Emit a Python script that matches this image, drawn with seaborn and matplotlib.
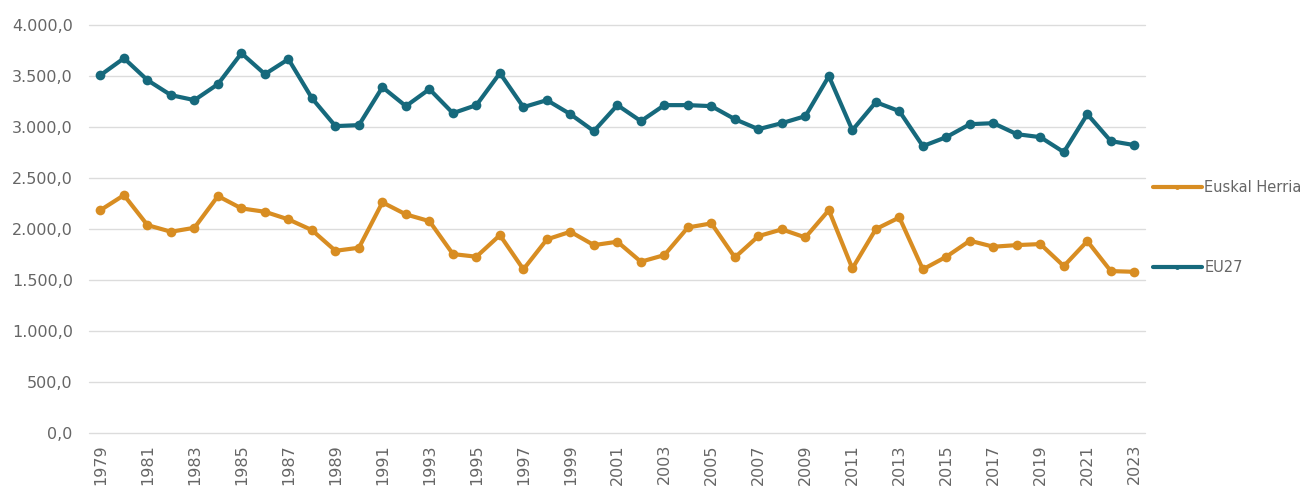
import matplotlib
matplotlib.use('agg')
import matplotlib.pyplot as plt
from matplotlib.ticker import FuncFormatter, MultipleLocator
import pandas as pd
import seaborn as sns

years = list(range(1979, 2024))

eu27 = [3510, 3676, 3461, 3314, 3265, 3422, 3725, 3520, 3667, 3284,
        3010, 3020, 3392, 3206, 3373, 3137, 3216, 3530, 3196, 3265,
        3127, 2961, 3216, 3059, 3216, 3216, 3206, 3078, 2980, 3039,
        3108, 3500, 2970, 3245, 3157, 2814, 2902, 3029, 3039, 2931,
        2902, 2755, 3127, 2863, 2824]

euskal_herria = [2186, 2333, 2039, 1974, 2013, 2324, 2203, 2170, 2095, 1990,
                 1787, 1817, 2262, 2144, 2078, 1755, 1729, 1941, 1605, 1899,
                 1974, 1843, 1876, 1680, 1745, 2016, 2056, 1722, 1931, 1997,
                 1918, 2186, 1614, 2000, 2114, 1605, 1729, 1886, 1827, 1843,
                 1853, 1637, 1882, 1588, 1581]

series_names = ['Euskal Herria', 'EU27']
colors = {'Euskal Herria': '#D88D22', 'EU27': '#16697C'}

df = pd.DataFrame({
    'urtea': years * 2,
    'balioa': euskal_herria + eu27,
    'serie': ['Euskal Herria'] * len(years) + ['EU27'] * len(years),
})

sns.set_style('white')
plt.rcParams['font.family'] = ['DejaVu Sans']

fig, ax = plt.subplots(figsize=(13.15, 4.94), dpi=100)
fig.subplots_adjust(left=0.068, right=0.871, top=0.949, bottom=0.1235)

sns.lineplot(data=df, x='urtea', y='balioa', hue='serie', hue_order=series_names,
             palette=colors, marker='o', markersize=7, markeredgewidth=0,
             linewidth=3.0, ax=ax)


def eu_format(v, pos):
    s = '{:,.1f}'.format(v)
    return s.replace(',', 'X').replace('.', ',').replace('X', '.')


ax.set_ylim(0, 4000)
ax.set_xlim(1978.53, 2023.47)
ax.yaxis.set_major_locator(MultipleLocator(500))
ax.yaxis.set_major_formatter(FuncFormatter(eu_format))
ax.set_xticks(years[::2])
ax.set_xticklabels([str(y) for y in years[::2]], rotation=90)
ax.tick_params(axis='both', length=0, labelsize=11.5, labelcolor='#666666')
ax.tick_params(axis='y', pad=12)
ax.tick_params(axis='x', pad=8)
ax.grid(axis='y', color='#dcdcdc', linewidth=1)
ax.set_axisbelow(True)
for line in ax.get_ygridlines():
    line.set_clip_on(False)
for s in ax.spines.values():
    s.set_visible(False)
ax.set_xlabel('')
ax.set_ylabel('')

handles, labels = ax.get_legend_handles_labels()
leg = ax.legend(handles, labels, loc='center left', bbox_to_anchor=(1.0, 0.504),
                frameon=False, fontsize=10.5, labelspacing=4.5, handlelength=3.4,
                handletextpad=0.15, borderaxespad=0.1, markerscale=0.5)
for t in leg.get_texts():
    t.set_color('#666666')

plt.savefig('out.png')
